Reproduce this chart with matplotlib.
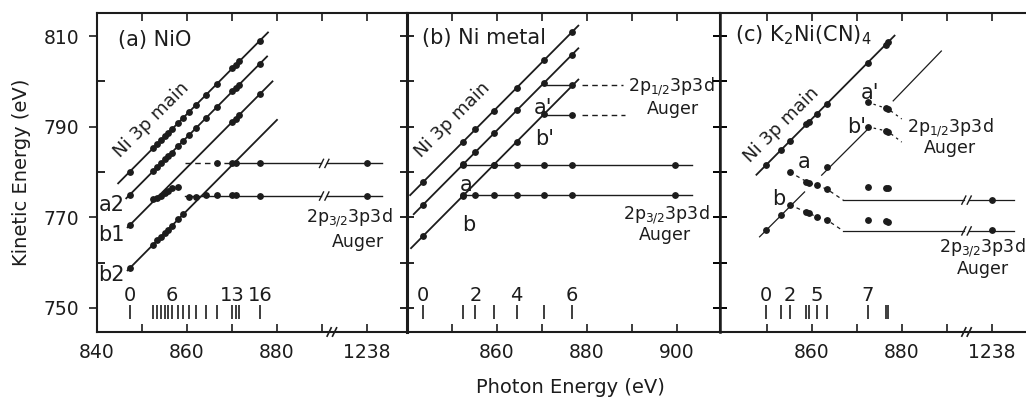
import matplotlib
matplotlib.use('Agg')
import matplotlib.pyplot as plt

plt.rcParams['font.family'] = ['DejaVu Sans']
plt.rcParams['mathtext.default'] = 'regular'

INK = '#1c1c1c'

# ---------------- (a) NiO ----------------
hv_a = [847.3, 852.5, 853.4, 854.2, 855.1, 855.8, 856.6, 858.1, 859.2,
        860.5, 862.0, 864.2, 866.6, 870.1, 870.8, 871.6, 876.2]
ke_a_main = [780.1, 785.3, 786.2, 787.0, 787.9, 788.6, 789.4, 790.9, 792.0,
             793.3, 794.8, 797.0, 799.4, 802.9, 803.6, 804.4, 809.0]
ke_a_a2 = [775.0, 780.2, 781.1, 781.9, 782.8, 783.5, 784.3, 785.8, 786.9,
           788.2, 789.7, 791.9, 794.3, 797.8, 798.5, 799.3, 803.9]
hv_a_b1 = [847.3, 870.1, 870.8, 871.6, 876.2]
ke_a_b1 = [768.3, 791.1, 791.8, 792.6, 797.2]
hv_a_thr = [852.5, 853.4, 854.2, 855.1, 855.8, 856.6, 858.1]
ke_a_thr = [774.0, 774.3, 774.7, 775.3, 775.9, 776.4, 776.8]
hv_a_b2 = [847.3, 852.5, 853.4, 854.2, 855.1, 855.8, 856.6, 858.1, 859.2]
ke_a_b2 = [758.8, 764.0, 764.9, 765.7, 766.6, 767.3, 768.1, 769.6, 770.7]
hv_a_up = [866.6, 870.1, 870.8, 876.2, 900.0]
ke_a_up = [782.0, 781.9, 781.9, 781.9, 781.9]
hv_a_lo = [860.5, 862.0, 864.2, 866.6, 870.1, 870.8, 876.2, 900.0]
ke_a_lo = [774.5, 774.4, 774.9, 774.9, 775.0, 775.0, 774.6, 774.7]
line_a_main = ([844.7, 878.0], [777.5, 810.8])
line_a_a2 = ([846.5, 877.8], [774.2, 805.5])
line_a_b1 = ([846.8, 879.0], [767.8, 800.0])
line_a_b2 = ([846.8, 880.0], [758.3, 791.5])
idx_a = [0, 6, 13, 16]

# ---------------- (b) Ni metal ----------------
hv_b = [843.5, 852.5, 855.2, 859.3, 864.4, 870.5, 876.6]
ke_b_main = [777.7, 786.7, 789.4, 793.5, 798.6, 804.7, 810.8]
ke_b_2 = [772.7, 781.7, 784.4, 788.5, 793.6, 799.7, 805.8]
hv_b_3 = [843.5, 852.5, 859.3, 864.4, 870.5]
ke_b_3 = [765.8, 774.8, 781.6, 786.7, 792.8]
hv_b_up = [852.5, 859.3, 864.4, 870.5, 876.6, 899.6]
ke_b_up = [781.6, 781.6, 781.6, 781.6, 781.6, 781.6]
hv_b_lo = [852.5, 855.2, 859.3, 864.4, 870.5, 876.6, 899.6]
ke_b_lo = [774.9, 774.9, 774.9, 774.9, 774.9, 774.9, 774.9]
hv_b_prime = [876.6, 876.6]
ke_b_prime = [799.3, 792.6]
line_b_main = ([840.7, 878.1], [774.9, 812.3])
line_b_2 = ([841.5, 878.1], [770.7, 807.3])
line_b_3 = ([840.9, 878.1], [763.2, 800.4])
idx_b = [0, 2, 4, 6]

# ---------------- (c) K2Ni(CN)4 ----------------
hv_c = [849.8, 853.2, 855.1, 858.8, 859.4, 861.1, 863.4, 872.4, 876.4, 877.0]
ke_c_main = [781.5, 784.9, 786.8, 790.5, 791.1, 792.8, 795.1, 804.1, 808.1, 808.7]
hv_c_a = [855.1, 858.8, 859.4, 861.1, 863.4]
ke_c_a = [780.0, 777.9, 777.6, 777.1, 776.2]
hv_c_b = [849.8, 853.2, 855.1, 858.8, 859.4, 861.1, 863.4]
ke_c_b = [767.2, 770.6, 772.8, 771.1, 770.9, 770.1, 769.4]
hv_c_hi = [872.4, 876.4, 877.0, 900.0]
ke_c_ahi = [776.7, 776.4, 776.4, 773.8]
ke_c_bhi = [769.4, 769.1, 769.0, 767.1]
hv_c_p = [872.4, 876.4, 877.0]
ke_c_ap = [795.4, 794.1, 793.9]
ke_c_bp = [790.0, 789.1, 788.9]
hv_c_2 = [863.3]
ke_c_2 = [781.1]
line_c_main = ([847.7, 878.4], [779.4, 810.1])
line_c_thin1 = ([862.2, 872.9], [779.3, 789.9])
line_c_thin2 = ([878.1, 888.8], [795.7, 806.7])
line_c_b = ([848.4, 858.4], [765.7, 775.6])
idx_c = [0, 2, 5, 7]

YLIM = (744.7, 815.1)
MS = 3.9


def dots(ax, x, y, ms=MS):
    ax.plot(x, y, 'o', ms=ms, color=INK, mec=INK, zorder=4)


def fit(ax, xy, lw=1.3):
    ax.plot(xy[0], xy[1], '-', color=INK, lw=lw, zorder=3)


def slash(ax, x, y):
    for dx in (-0.6, 0.6):
        ax.plot([x + dx - 0.45, x + dx + 0.45], [y - 0.9, y + 0.9],
                color=INK, lw=1.0, zorder=3)


def axis_break(ax, x):
    tr = ax.get_xaxis_transform()
    for dx in (-0.6, 0.6):
        ax.plot([x + dx - 0.45, x + dx + 0.45], [-0.013, 0.013],
                color=INK, lw=1.2, transform=tr, clip_on=False, zorder=5)


def photons(ax, hv, idx):
    ax.vlines(hv, 747.6, 750.6, color=INK, lw=1.2)
    for i in idx:
        ax.text(hv[i], 752.7, str(i), ha='center', va='center',
                fontsize=14, color=INK)


def style(ax, xlim, major, labels, minor):
    ax.set_xlim(*xlim)
    ax.set_ylim(*YLIM)
    ax.set_facecolor('none')
    ax.set_xticks(major)
    ax.set_xticklabels(labels)
    ax.set_xticks(minor, minor=True)
    ax.tick_params(axis='x', which='both', direction='in', top=True,
                   length=6, width=1.2, labelsize=13.5, pad=8, colors=INK)
    for s in ax.spines.values():
        s.set_linewidth(1.5)
        s.set_color(INK)


fig = plt.figure(figsize=(10.26, 3.99), dpi=100)
bot, hgt = 0.168, 0.7995
ax_a = fig.add_axes([97 / 1026, bot, 310 / 1026, hgt])
ax_b = fig.add_axes([407 / 1026, bot, 313 / 1026, hgt])
ax_c = fig.add_axes([720 / 1026, bot, 305 / 1026, hgt])

# ---- panel a ----
ax = ax_a
style(ax, (840, 908.9), [840, 860, 880, 900], ['840', '860', '880', '1238'],
      [850, 870, 890])
ax.spines['right'].set_visible(False)
ax.set_yticks([750, 770, 790, 810])
ax.set_yticks([760, 780, 800], minor=True)
ax.tick_params(axis='y', which='major', direction='out', length=6, width=1.2,
               labelsize=13.5, pad=7, colors=INK, right=False)
ax.tick_params(axis='y', which='minor', direction='in', length=6, width=1.2,
               right=False)
for ln in (line_a_main, line_a_a2, line_a_b1, line_a_b2):
    fit(ax, ln)
ax.plot([859.6, 871.6], [781.9, 781.9], '--', color=INK, lw=1.0, dashes=(4, 3))
ax.plot([871.6, 889.8], [781.9, 781.9], '-', color=INK, lw=1.0)
ax.plot([891.2, 903.3], [781.9, 781.9], '-', color=INK, lw=1.0)
ax.plot([859.6, 889.8], [774.7, 774.7], '-', color=INK, lw=1.0)
ax.plot([891.2, 903.3], [774.7, 774.7], '-', color=INK, lw=1.0)
slash(ax, 890.5, 781.9)
slash(ax, 890.5, 774.7)
dots(ax, hv_a, ke_a_main)
dots(ax, hv_a, ke_a_a2)
dots(ax, hv_a_b1, ke_a_b1)
dots(ax, hv_a_thr, ke_a_thr)
dots(ax, hv_a_b2, ke_a_b2)
dots(ax, hv_a_up, ke_a_up)
dots(ax, hv_a_lo, ke_a_lo)
axis_break(ax, 892.2)
photons(ax, hv_a, idx_a)
ax.text(844.7, 809.1, '(a) NiO', fontsize=15, va='center', color=INK)
ax.text(852.1, 791.6, 'Ni 3p main', rotation=45, rotation_mode='anchor',
        ha='center', va='center', fontsize=13, color=INK)
for t, y in (('a2', 772.7), ('b1', 766.1), ('b2', 757.2)):
    ax.text(843.3, y, t, ha='center', va='center', fontsize=15, color=INK)
ax.text(896.0, 769.9, r'2p$_{3/2}$3p3d', ha='center', va='center',
        fontsize=12.5, color=INK)
ax.text(898.0, 764.6, 'Auger', ha='center', va='center', fontsize=12.5,
        color=INK)
ax.set_ylabel('Kinetic Energy (eV)', fontsize=14, color=INK, labelpad=9)

# ---- panel b ----
ax = ax_b
style(ax, (840, 909.6), [860, 880, 900], ['860', '880', '900'],
      [850, 870, 890])
ax.spines['left'].set_linewidth(2.2)
ax.set_yticks(range(750, 811, 10))
ax.tick_params(axis='y', direction='inout', length=10, width=1.2,
               right=True, labelleft=False)
for ln in (line_b_main, line_b_2, line_b_3):
    fit(ax, ln)
ax.plot([852.2, 903.3], [781.6, 781.6], '-', color=INK, lw=1.0)
ax.plot([852.5, 903.3], [774.9, 774.9], '-', color=INK, lw=1.0)
ax.plot([870.5, 876.6], [799.3, 799.3], '-', color=INK, lw=1.0)
ax.plot([870.5, 876.6], [792.6, 792.6], '-', color=INK, lw=1.0)
ax.plot([879.0, 888.0], [799.3, 799.3], '--', color=INK, lw=1.0, dashes=(4, 3))
ax.plot([879.0, 888.4], [792.6, 792.6], '--', color=INK, lw=1.0, dashes=(4, 3))
dots(ax, hv_b, ke_b_main)
dots(ax, hv_b, ke_b_2)
dots(ax, hv_b_3, ke_b_3)
dots(ax, hv_b_up, ke_b_up)
dots(ax, hv_b_lo, ke_b_lo)
dots(ax, hv_b_prime, ke_b_prime)
photons(ax, hv_b, idx_b)
ax.text(843.3, 809.6, '(b) Ni metal', fontsize=15, va='center', color=INK)
ax.text(850.2, 791.5, 'Ni 3p main', rotation=45, rotation_mode='anchor',
        ha='center', va='center', fontsize=13, color=INK)
for t, x, y in (("a'", 870.2, 794.2), ("b'", 870.7, 787.2),
                ('a', 853.1, 777.2), ('b', 853.8, 768.4)):
    ax.text(x, y, t, ha='center', va='center', fontsize=15, color=INK)
ax.text(898.8, 798.8, r'2p$_{1/2}$3p3d', ha='center', va='center',
        fontsize=12.5, color=INK)
ax.text(899.1, 794.0, 'Auger', ha='center', va='center', fontsize=12.5,
        color=INK)
ax.text(897.6, 770.6, r'2p$_{3/2}$3p3d', ha='center', va='center',
        fontsize=12.5, color=INK)
ax.text(897.4, 766.2, 'Auger', ha='center', va='center', fontsize=12.5,
        color=INK)

# ---- panel c ----
ax = ax_c
style(ax, (839.6, 907.4), [860, 880, 900], ['860', '880', '1238'],
      [850, 870, 890])
ax.spines['right'].set_visible(False)
ax.spines['left'].set_linewidth(1.8)
ax.set_yticks(range(750, 811, 10))
ax.tick_params(axis='y', direction='inout', length=10, width=1.2,
               right=False, labelleft=False)
fit(ax, line_c_main)
fit(ax, line_c_thin1, lw=0.9)
fit(ax, line_c_thin2, lw=0.9)
fit(ax, line_c_b, lw=0.9)
ax.plot(hv_c_a + [867.0], ke_c_a + [773.8], '--', color=INK, lw=0.9,
        dashes=(3, 3))
ax.plot(hv_c_b[2:] + [867.0], ke_c_b[2:] + [767.0], '--', color=INK, lw=0.9,
        dashes=(3, 3))
for y in (773.8, 767.0):
    ax.plot([867.0, 893.8], [y, y], '-', color=INK, lw=0.9)
    ax.plot([895.0, 905.0], [y, y], '-', color=INK, lw=0.9)
    slash(ax, 894.4, y)
ax.plot(hv_c_p + [880.0], ke_c_ap + [791.7], '--', color=INK, lw=0.9,
        dashes=(2, 3))
ax.plot(hv_c_p + [880.0], ke_c_bp + [786.6], '--', color=INK, lw=0.9,
        dashes=(2, 3))
dots(ax, hv_c, ke_c_main)
dots(ax, hv_c_a, ke_c_a)
dots(ax, hv_c_b, ke_c_b)
dots(ax, hv_c_hi, ke_c_ahi)
dots(ax, hv_c_hi, ke_c_bhi)
dots(ax, hv_c_p, ke_c_ap)
dots(ax, hv_c_p, ke_c_bp)
dots(ax, hv_c_2, ke_c_2)
axis_break(ax, 894.4)
photons(ax, hv_c, idx_c)
ax.text(842.9, 810.2, r'(c) K$_2$Ni(CN)$_4$', fontsize=15, va='center',
        color=INK)
ax.text(853.3, 790.5, 'Ni 3p main', rotation=45, rotation_mode='anchor',
        ha='center', va='center', fontsize=13, color=INK)
for t, x, y in (("a'", 872.9, 797.5), ("b'", 869.9, 789.9),
                ('a', 858.2, 782.2), ('b', 852.7, 774.1)):
    ax.text(x, y, t, ha='center', va='center', fontsize=15, color=INK)
ax.text(890.7, 789.8, r'2p$_{1/2}$3p3d', ha='center', va='center',
        fontsize=12.5, color=INK)
ax.text(890.7, 785.4, 'Auger', ha='center', va='center', fontsize=12.5,
        color=INK)
ax.text(898.0, 763.2, r'2p$_{3/2}$3p3d', ha='center', va='center',
        fontsize=12.5, color=INK)
ax.text(898.0, 758.5, 'Auger', ha='center', va='center', fontsize=12.5,
        color=INK)

fig.text(570 / 1026, 0.03, 'Photon Energy (eV)', ha='center', va='center',
         fontsize=14, color=INK)

fig.savefig('out.png', dpi=100, facecolor='white')
